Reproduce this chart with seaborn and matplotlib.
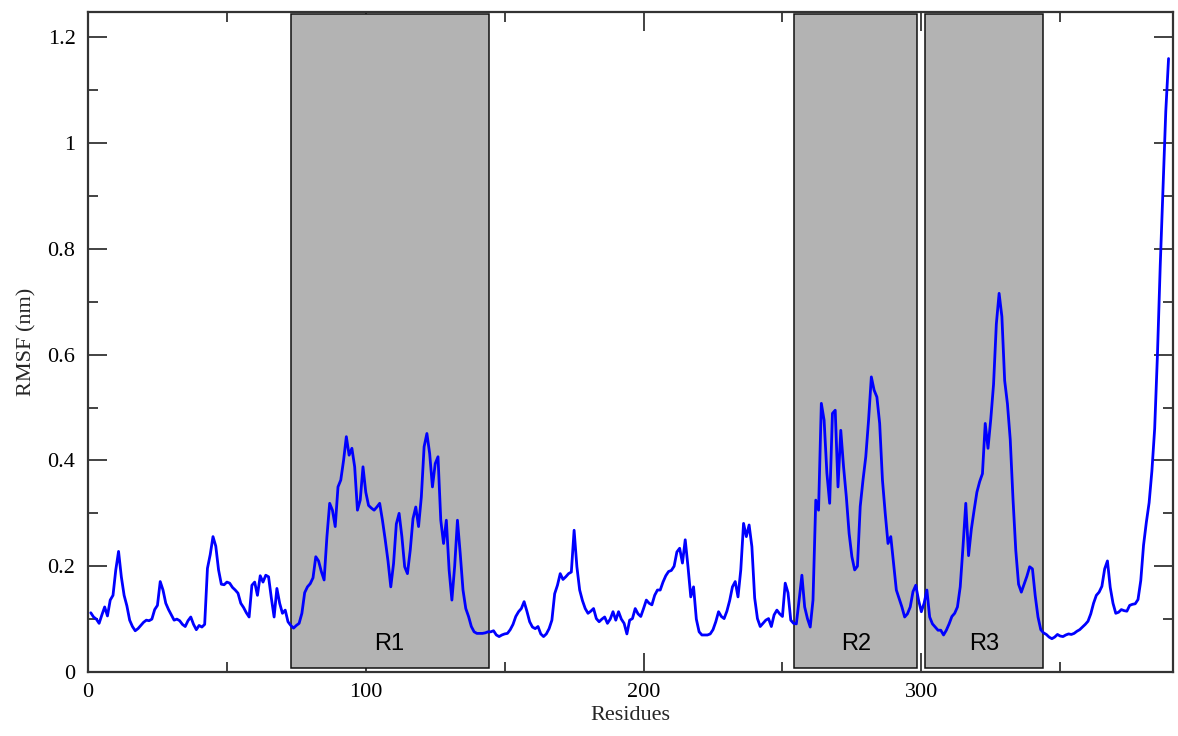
import numpy as np
import matplotlib
matplotlib.use("Agg")
import matplotlib.pyplot as plt
import seaborn as sns
from matplotlib.patches import Rectangle
from matplotlib.ticker import MultipleLocator

# RMSF per residue (nm)
rmsf = [
    0.112, 0.104, 0.100, 0.092, 0.108, 0.123, 0.106, 0.136, 0.145, 0.193,
    0.228, 0.180, 0.145, 0.125, 0.098, 0.086, 0.078, 0.082, 0.088, 0.094,
    0.098, 0.097, 0.100, 0.118, 0.126, 0.171, 0.155, 0.130, 0.118, 0.108,
    0.098, 0.100, 0.097, 0.090, 0.086, 0.097, 0.104, 0.090, 0.080, 0.088,
    0.085, 0.090, 0.196, 0.222, 0.256, 0.238, 0.193, 0.166, 0.165, 0.170,
    0.168, 0.160, 0.155, 0.149, 0.130, 0.122, 0.112, 0.104, 0.164, 0.170,
    0.145, 0.182, 0.170, 0.183, 0.180, 0.140, 0.104, 0.158, 0.130, 0.111,
    0.117, 0.095, 0.088, 0.083, 0.088, 0.092, 0.111, 0.150, 0.161, 0.167,
    0.178, 0.218, 0.210, 0.190, 0.174, 0.255, 0.319, 0.306, 0.275, 0.350,
    0.363, 0.400, 0.445, 0.410, 0.423, 0.388, 0.306, 0.325, 0.388, 0.340,
    0.315, 0.310, 0.306, 0.312, 0.319, 0.287, 0.250, 0.210, 0.161, 0.205,
    0.280, 0.300, 0.256, 0.199, 0.186, 0.230, 0.290, 0.312, 0.275, 0.331,
    0.426, 0.451, 0.413, 0.350, 0.394, 0.407, 0.287, 0.243, 0.287, 0.193,
    0.136, 0.200, 0.287, 0.224, 0.155, 0.120, 0.105, 0.086, 0.076, 0.073,
    0.073, 0.073, 0.074, 0.076, 0.076, 0.078, 0.070, 0.067, 0.070, 0.072,
    0.073, 0.080, 0.090, 0.105, 0.114, 0.120, 0.133, 0.115, 0.095, 0.085,
    0.082, 0.086, 0.072, 0.067, 0.072, 0.082, 0.098, 0.148, 0.164, 0.186,
    0.175, 0.180, 0.186, 0.189, 0.268, 0.199, 0.155, 0.135, 0.120, 0.111,
    0.115, 0.120, 0.101, 0.095, 0.100, 0.104, 0.092, 0.100, 0.114, 0.098,
    0.114, 0.100, 0.092, 0.072, 0.098, 0.101, 0.120, 0.110, 0.105, 0.120,
    0.136, 0.130, 0.127, 0.145, 0.155, 0.155, 0.170, 0.182, 0.190, 0.192,
    0.200, 0.227, 0.234, 0.206, 0.250, 0.199, 0.142, 0.161, 0.100, 0.076,
    0.070, 0.070, 0.070, 0.072, 0.080, 0.095, 0.114, 0.105, 0.101, 0.115,
    0.135, 0.161, 0.171, 0.142, 0.193, 0.281, 0.256, 0.278, 0.237, 0.140,
    0.101, 0.086, 0.092, 0.098, 0.101, 0.086, 0.108, 0.117, 0.110, 0.105,
    0.168, 0.150, 0.098, 0.092, 0.091, 0.136, 0.183, 0.123, 0.101, 0.085,
    0.136, 0.325, 0.306, 0.508, 0.476, 0.376, 0.319, 0.489, 0.495, 0.350,
    0.457, 0.388, 0.331, 0.262, 0.218, 0.193, 0.200, 0.313, 0.363, 0.407,
    0.476, 0.558, 0.533, 0.520, 0.470, 0.363, 0.300, 0.243, 0.256, 0.205,
    0.155, 0.139, 0.123, 0.104, 0.110, 0.123, 0.152, 0.164, 0.136, 0.114,
    0.130, 0.155, 0.104, 0.091, 0.085, 0.079, 0.079, 0.070, 0.079, 0.091,
    0.105, 0.111, 0.123, 0.161, 0.237, 0.319, 0.220, 0.270, 0.306, 0.340,
    0.360, 0.375, 0.470, 0.423, 0.478, 0.544, 0.658, 0.716, 0.672, 0.551,
    0.507, 0.440, 0.327, 0.230, 0.166, 0.151, 0.166, 0.181, 0.199, 0.195,
    0.144, 0.104, 0.080, 0.074, 0.071, 0.066, 0.063, 0.066, 0.071, 0.068,
    0.067, 0.070, 0.072, 0.071, 0.073, 0.077, 0.080, 0.085, 0.090, 0.096,
    0.110, 0.130, 0.145, 0.151, 0.162, 0.195, 0.210, 0.160, 0.130, 0.111,
    0.113, 0.118, 0.116, 0.115, 0.126, 0.128, 0.129, 0.137, 0.173, 0.240,
    0.283, 0.320, 0.380, 0.460, 0.600, 0.768, 0.914, 1.060, 1.160,
]
residues = np.arange(1, len(rmsf) + 1)

# highlighted regions (start, end residue)
region_names = ["R1", "R2", "R3"]
region_start = [73.0, 254.3, 301.4]
region_end = [144.2, 298.6, 343.9]

x_ticks = [0, 100, 200, 300]
y_ticks = [0, 0.2, 0.4, 0.6, 0.8, 1.0, 1.2]
y_tick_labels = ["0", "0.2", "0.4", "0.6", "0.8", "1", "1.2"]

sns.set_style("white")
plt.rcParams['font.family'] = ['Liberation Serif', 'DejaVu Serif']

fig = plt.figure(figsize=(11.78, 7.36), dpi=100)
ax = fig.add_axes([88 / 1178, 64 / 736, 1085 / 1178, 660 / 736])

for name, x0, x1 in zip(region_names, region_start, region_end):
    ax.add_patch(Rectangle((x0, 0.008), x1 - x0, 1.236, facecolor='#b3b3b3',
                           edgecolor='#111111', linewidth=1.1, zorder=1))
    ax.text((x0 + x1) / 2, 0.052, name, ha='center', va='center', fontsize=17,
            family=['Liberation Sans', 'DejaVu Sans'], color='black', zorder=4)

sns.lineplot(x=residues, y=rmsf, color='#0000ff', linewidth=2.0, ax=ax, zorder=3)

ax.set_xlim(0, 390.6)
ax.set_ylim(0, 1.248)
ax.set_xticks(x_ticks)
ax.set_yticks(y_ticks)
ax.set_yticklabels(y_tick_labels)
ax.xaxis.set_minor_locator(MultipleLocator(50))
ax.yaxis.set_minor_locator(MultipleLocator(0.1))
ax.tick_params(which='both', direction='in', bottom=True, left=True,
               top=True, right=True, labelbottom=True, labelleft=True,
               labelsize=16, colors='#222222', labelcolor='black')
ax.tick_params(axis='x', pad=8)
ax.tick_params(axis='y', pad=9)
ax.tick_params(which='major', length=14, width=1.2)
ax.tick_params(which='minor', length=7.5, width=1.2)
for sp in ax.spines.values():
    sp.set_color('#333333')
    sp.set_linewidth(1.6)

ax.set_xlabel('Residues', fontsize=16, labelpad=3)
ax.set_ylabel('RMSF (nm)', fontsize=16, labelpad=8)

fig.savefig('out.png', dpi=100)
